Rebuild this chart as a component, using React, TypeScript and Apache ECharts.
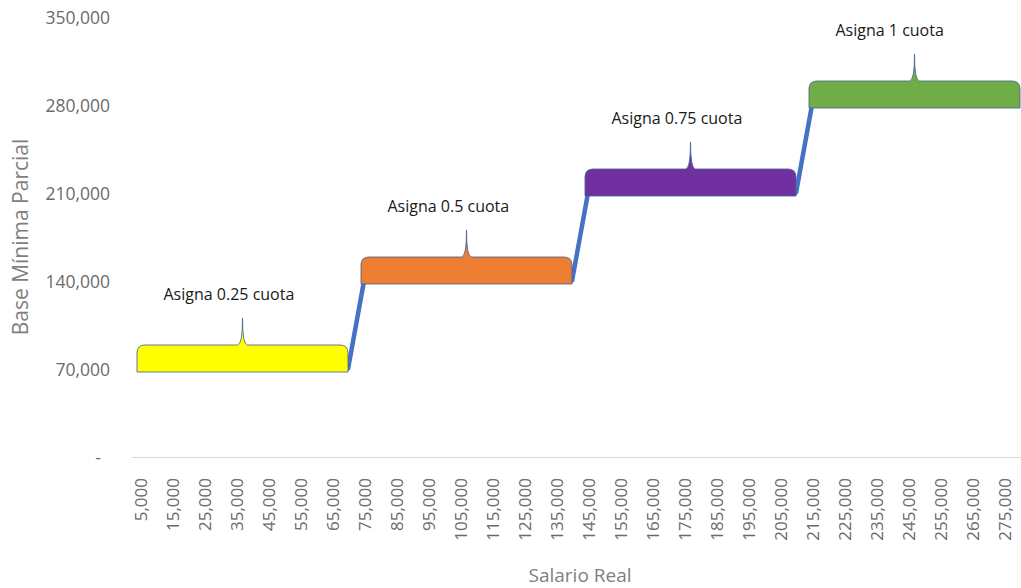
import { useEffect, useRef } from 'react';
import * as echarts from 'echarts';

const salaryCategories = [
  '5,000', '10,000', '15,000', '20,000', '25,000', '30,000', '35,000', '40,000',
  '45,000', '50,000', '55,000', '60,000', '65,000', '70,000', '75,000', '80,000',
  '85,000', '90,000', '95,000', '100,000', '105,000', '110,000', '115,000', '120,000',
  '125,000', '130,000', '135,000', '140,000', '145,000', '150,000', '155,000', '160,000',
  '165,000', '170,000', '175,000', '180,000', '185,000', '190,000', '195,000', '200,000',
  '205,000', '210,000', '215,000', '220,000', '225,000', '230,000', '235,000', '240,000',
  '245,000', '250,000', '255,000', '260,000', '265,000', '270,000', '275,000', '280,000',
];

const baseMinimaParcial = [
  70000, 70000, 70000, 70000, 70000, 70000, 70000, 70000, 70000, 70000, 70000, 70000, 70000, 70000,
  140000, 140000, 140000, 140000, 140000, 140000, 140000, 140000, 140000, 140000, 140000, 140000, 140000, 140000,
  210000, 210000, 210000, 210000, 210000, 210000, 210000, 210000, 210000, 210000, 210000, 210000, 210000, 210000,
  280000, 280000, 280000, 280000, 280000, 280000, 280000, 280000, 280000, 280000, 280000, 280000, 280000, 280000,
];

const yMin = 0;
const yMax = 350000;
const yInterval = 70000;

const braceStart = ['5,000', '75,000', '145,000', '215,000'];
const braceEnd = ['70,000', '140,000', '210,000', '280,000'];
const braceLevel = [70000, 140000, 210000, 280000];
const braceLabel = ['Asigna 0.25 cuota', 'Asigna 0.5 cuota', 'Asigna 0.75 cuota', 'Asigna 1 cuota'];
const braceColor = ['#ffff00', '#ed7d31', '#7030a0', '#70ad47'];

const FONT = '"Open Sans", "Noto Sans", sans-serif';

export default function App() {
  const ref = useRef<HTMLDivElement>(null);

  useEffect(() => {
    if (!ref.current) return;
    const chart = echarts.init(ref.current, null, { renderer: 'svg' });

    const braceData = braceStart.map((s, i) => [
      salaryCategories.indexOf(s),
      salaryCategories.indexOf(braceEnd[i]),
      braceLevel[i],
      i,
    ]);

    const option: any = {
      animation: false,
      backgroundColor: '#ffffff',
      grid: {
        left: 132,
        top: 17,
        width: 896,
        height: 440,
        containLabel: false,
        outerBoundsMode: 'none',
      },
      xAxis: {
        type: 'category',
        data: salaryCategories,
        boundaryGap: true,
        name: 'Salario Real',
        nameLocation: 'middle',
        nameGap: 108,
        nameTextStyle: { color: '#7f7f7f', fontSize: 19, fontFamily: FONT },
        axisLine: { show: true, lineStyle: { color: '#d9d9d9', width: 1 } },
        axisTick: { show: false },
        axisLabel: {
          interval: 1,
          rotate: 90,
          margin: 21,
          color: '#6b6b6b',
          fontSize: 17,
          fontFamily: FONT,
        },
        splitLine: { show: false },
      },
      yAxis: {
        type: 'value',
        min: yMin,
        max: yMax,
        interval: yInterval,
        name: 'Base Mínima Parcial',
        nameLocation: 'middle',
        nameGap: 102,
        nameRotate: 90,
        nameTextStyle: { color: '#7f7f7f', fontSize: 21, fontFamily: FONT },
        axisLine: { show: false },
        axisTick: { show: false },
        splitLine: { show: false },
        axisLabel: {
          margin: 22,
          color: '#6b6b6b',
          fontSize: 17.5,
          fontFamily: FONT,
          formatter: (v: number) => (v === 0 ? '-  ' : v.toLocaleString('en-US')),
        },
      },
      series: [
        {
          type: 'line',
          data: baseMinimaParcial,
          symbol: 'none',
          lineStyle: { color: '#4472c4', width: 4.5 },
          z: 2,
        },
        {
          type: 'custom',
          data: braceData,
          encode: { x: [0, 1], y: 2 },
          z: 5,
          clip: false,
          renderItem: (params: any, api: any) => {
            const idx = api.value(3);
            const s = api.coord([api.value(0), api.value(2)]);
            const e = api.coord([api.value(1), api.value(2)]);
            const x0 = s[0] - 3;
            const x1 = e[0];
            const yb = s[1] + 3;
            const yt = yb - 27;
            const tip = yt - 27;
            const r = 8;
            const w = 5;
            const xm = (x0 + x1) / 2;
            const d =
              `M${x0},${yb} L${x0},${yt + r} Q${x0},${yt} ${x0 + r},${yt} ` +
              `L${xm - w},${yt} Q${xm},${yt} ${xm},${tip} Q${xm},${yt} ${xm + w},${yt} ` +
              `L${x1 - r},${yt} Q${x1},${yt} ${x1},${yt + r} L${x1},${yb} Z`;
            return {
              type: 'group',
              children: [
                {
                  type: 'path',
                  shape: { pathData: d },
                  style: {
                    fill: braceColor[idx],
                    stroke: 'rgba(70,100,150,0.85)',
                    lineWidth: 1,
                  },
                },
                {
                  type: 'text',
                  style: {
                    text: braceLabel[idx],
                    x: xm - 79,
                    y: tip - 24,
                    textAlign: 'left',
                    textVerticalAlign: 'middle',
                    fill: '#1a1a1a',
                    fontSize: 16,
                    fontFamily: FONT,
                  },
                },
              ],
            };
          },
        },
      ],
    };

    chart.setOption(option);
    return () => chart.dispose();
  }, []);

  return (
    <div
      ref={ref}
      style={{ position: 'fixed', left: 0, top: 0, width: 1021, height: 588, background: '#fff' }}
    />
  );
}
